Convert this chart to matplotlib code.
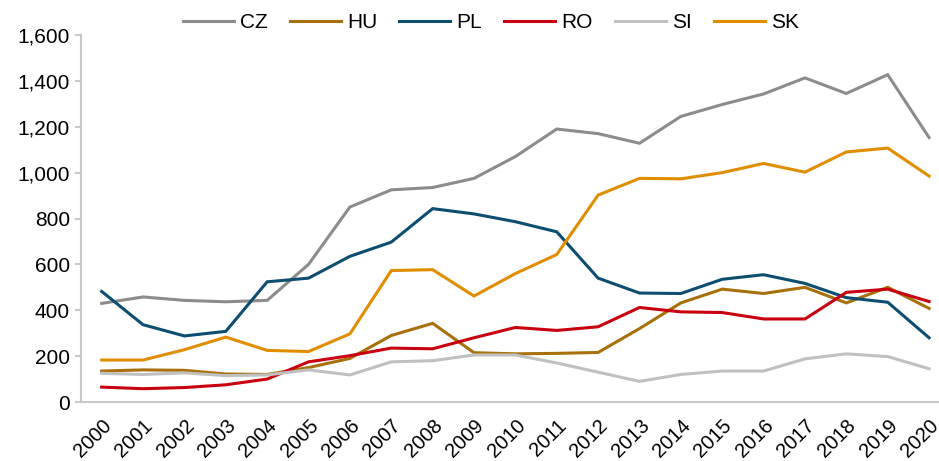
import matplotlib
matplotlib.use("Agg")
import matplotlib.pyplot as plt

years = [str(y) for y in range(2000, 2021)]
CZ = [430, 458, 443, 437, 443, 600, 850, 925, 935, 975, 1070, 1190, 1170, 1128, 1245, 1297, 1343, 1413, 1345, 1427, 1153]
HU = [135, 140, 138, 122, 120, 150, 190, 290, 343, 215, 210, 212, 216, 320, 432, 492, 473, 500, 432, 500, 408]
PL = [482, 337, 288, 308, 524, 540, 635, 697, 843, 820, 786, 742, 540, 475, 473, 535, 555, 517, 455, 435, 280]
RO = [65, 58, 63, 75, 100, 175, 202, 235, 232, 280, 325, 312, 328, 412, 393, 390, 362, 362, 478, 492, 438]
SI = [125, 120, 127, 115, 118, 140, 118, 175, 180, 205, 205, 170, 130, 90, 120, 135, 135, 188, 210, 198, 145]
SK = [183, 183, 228, 283, 225, 220, 297, 573, 577, 462, 560, 643, 902, 975, 973, 1000, 1040, 1002, 1090, 1107, 985]

series = [("CZ", CZ, "#8c8c8c"), ("HU", HU, "#a8700a"), ("PL", PL, "#0d4d70"),
          ("RO", RO, "#c8000f"), ("SI", SI, "#c0c0c0"), ("SK", SK, "#e08e00")]

plt.rcParams['font.family'] = ['Liberation Sans', 'DejaVu Sans']
fig = plt.figure(figsize=(9.39, 4.61), dpi=100)
ax = fig.add_axes([81/939, 1 - 402/461, 1 - 81/939, (402 - 35)/461])
x = list(range(len(years)))
for name, vals, c in series:
    ax.plot(x, vals, color=c, lw=2.2, label=name, solid_joinstyle='miter')

ax.set_xlim(-0.5, 20.24)
ax.set_ylim(0, 1600)
ax.set_yticks(range(0, 1601, 200))
ax.set_yticklabels([f"{v:,}" for v in range(0, 1601, 200)], fontsize=15)
ax.set_xticks(x)
ax.set_xticklabels(years, rotation=45, ha='right', rotation_mode='anchor', fontsize=14.5)
for s in ['top', 'right']:
    ax.spines[s].set_visible(False)
for s in ['left', 'bottom']:
    ax.spines[s].set_color('#c8c8c8')
    ax.spines[s].set_linewidth(1.5)
ax.tick_params(axis='y', length=4, color='#c8c8c8', width=1.5, pad=4)
ax.tick_params(axis='x', length=0, pad=10)
leg = fig.legend(loc='center', bbox_to_anchor=(491/939, 1 - 23/461), ncol=6, frameon=False,
                 fontsize=15, handlelength=2.45, handletextpad=0.3, columnspacing=1.05)
fig.savefig("out.png", dpi=100)
